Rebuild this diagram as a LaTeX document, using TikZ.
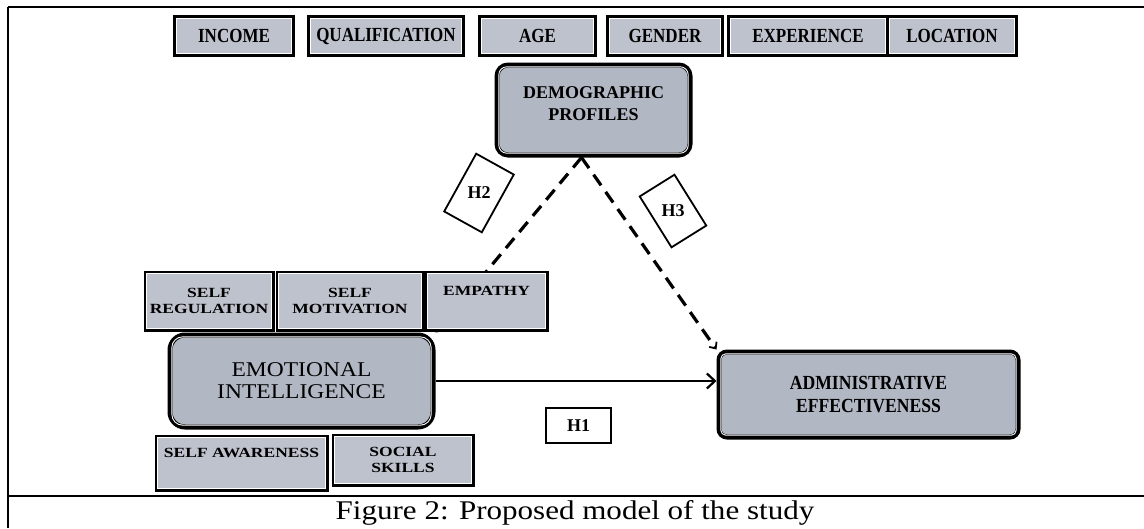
\documentclass[tikz,border=0pt]{standalone}
\usepackage{fontspec}
\setmainfont{Liberation Serif}
\newfontfamily\narrowserif[FakeStretch=0.85]{Liberation Serif}
\newfontfamily\slimserif[FakeStretch=0.88]{Liberation Serif}
\newfontfamily\broadserif[FakeStretch=1.12]{Liberation Serif}
\newfontfamily\wideserif[FakeStretch=1.25]{Liberation Serif}
\newfontfamily\capserif[FakeStretch=1.15]{Liberation Serif}
\usetikzlibrary{arrows.meta,calc,backgrounds}
\definecolor{boxgrey}{RGB}{190,194,205}
\definecolor{boxdark}{RGB}{178,183,196}

\begin{document}
\begin{tikzpicture}[x=1pt,y=-1pt,
  factor/.style={draw=black, line width=3.2pt, fill=boxgrey, inner sep=0pt,
    align=center, minimum height=38pt,
    font=\narrowserif\bfseries\fontsize{20}{20}\selectfont},
  dimbox/.style={draw=black, line width=3pt, fill=boxgrey, inner sep=0pt,
    align=center, font=\wideserif\bfseries\fontsize{14}{16}\selectfont},
  construct/.style={draw=black, line width=5pt, fill=boxdark, inner sep=0pt,
    align=center},
  hypo/.style={draw=black, line width=1.8pt, fill=white, inner sep=0pt},
  hlabel/.style={inner sep=0pt, font=\bfseries\fontsize{18}{18}\selectfont},
  dashline/.style={draw=black, line width=3.2pt, dash pattern=on 13pt off 8pt,
    -{Straight Barb[length=5pt,width=9pt,line width=1.8pt]}},
  mainline/.style={draw=black, line width=2.2pt,
    -{Straight Barb[length=8pt,width=15pt,line width=2.2pt]}},
  frameline/.style={draw=black, line width=2pt}
]
\useasboundingbox (0,0) rectangle (1144,528);

% frame around the figure and caption row
\draw[frameline] (8,7) -- (1144,7);
\draw[frameline] (8,7) -- (8,528);
\draw[frameline] (8,496) -- (1144,496);

% demographic variables
\node[factor, minimum width=118pt] (inc)  at (234,36)   {INCOME};
\node[factor, minimum width=154pt] (qual) at (386,36)   {QUALIFICATION};
\node[factor, minimum width=115pt] (age)  at (537.5,36) {AGE};
\node[factor, minimum width=114pt] (gen)  at (665,36)   {GENDER};
\node[factor, minimum width=158pt] (exp)  at (808,36)   {EXPERIENCE};
\node[factor, minimum width=128pt] (loc)  at (952,36)   {LOCATION};

% main constructs
\node[construct, rounded corners=11pt, minimum width=193pt, minimum height=90pt,
  font=\bfseries\fontsize{18}{22}\selectfont] (dem) at (593.5,110)
  {DEMOGRAPHIC\\PROFILES\\[-10pt]\mbox{}};
\node[construct, rounded corners=15pt, minimum width=263pt, minimum height=92pt,
  font=\broadserif\fontsize{21}{22}\selectfont] (ei) at (301.5,381)
  {EMOTIONAL\\INTELLIGENCE};
\node[construct, rounded corners=8pt, minimum width=299pt, minimum height=85pt,
  font=\slimserif\bfseries\fontsize{20}{23}\selectfont] (adm) at (868.5,394.5)
  {ADMINISTRATIVE\\EFFECTIVENESS};

% dimensions of emotional intelligence
\node[dimbox, minimum width=128pt, minimum height=58pt] (sreg) at (209,301)   {SELF\\REGULATION};
\node[dimbox, minimum width=146pt, minimum height=58pt] (smot) at (350,301)   {SELF\\MOTIVATION};
\node[dimbox, minimum width=121pt, minimum height=58pt] (emp)  at (486.5,301) {EMPATHY\\\strut};
\node[dimbox, minimum width=171pt, minimum height=54pt] (saw)  at (241.5,463) {SELF AWARENESS\\\strut};
\node[dimbox, minimum width=140pt, minimum height=50pt] (soc)  at (403,460)   {SOCIAL\\SKILLS};

% white inner rims of the shaded boxes
\foreach \n/\d/\r in {inc/3.2/0,qual/3.2/0,age/3.2/0,gen/3.2/0,exp/3.2/0,loc/3.2/0,
  sreg/3.1/0,smot/3.1/0,emp/3.1/0,saw/3.1/0,soc/3.1/0,dem/4.3/8,ei/4.3/11,adm/4.3/5}
  \draw[white, line width=0.9pt, rounded corners=\r pt]
    ([shift={(\d,\d)}]\n.north west) rectangle ([shift={(-\d,-\d)}]\n.south east);

% hypothesis tags
\node[hypo, rotate=-29, minimum width=43pt, minimum height=66pt] (h2box) at (479,193) {};
\node[hlabel] (h2) at (h2box.center) {H2};
\node[hypo, rotate=32, minimum width=41pt, minimum height=60pt] (h3box) at (673,211) {};
\node[hlabel] (h3) at (h3box.center) {H3};
\node[hypo, minimum width=65pt, minimum height=35pt] (h1box) at (578.5,425.5) {};
\node[hlabel] (h1) at (h1box.center) {H1};

% relationships
\coordinate (apex) at ([xshift=-12pt]dem.south);
\begin{scope}[on background layer]
  \draw[dashline] (apex) -- (ei.north east);
  \draw[dashline] (apex) -- (adm.north west);
\end{scope}
\draw[mainline] (ei.east) -- (ei.east -| adm.west);

% caption
\node[font=\capserif\fontsize{27}{27}\selectfont] (cap) at (575,513)
  {Figure 2: Proposed model of the study};
\end{tikzpicture}
\end{document}
